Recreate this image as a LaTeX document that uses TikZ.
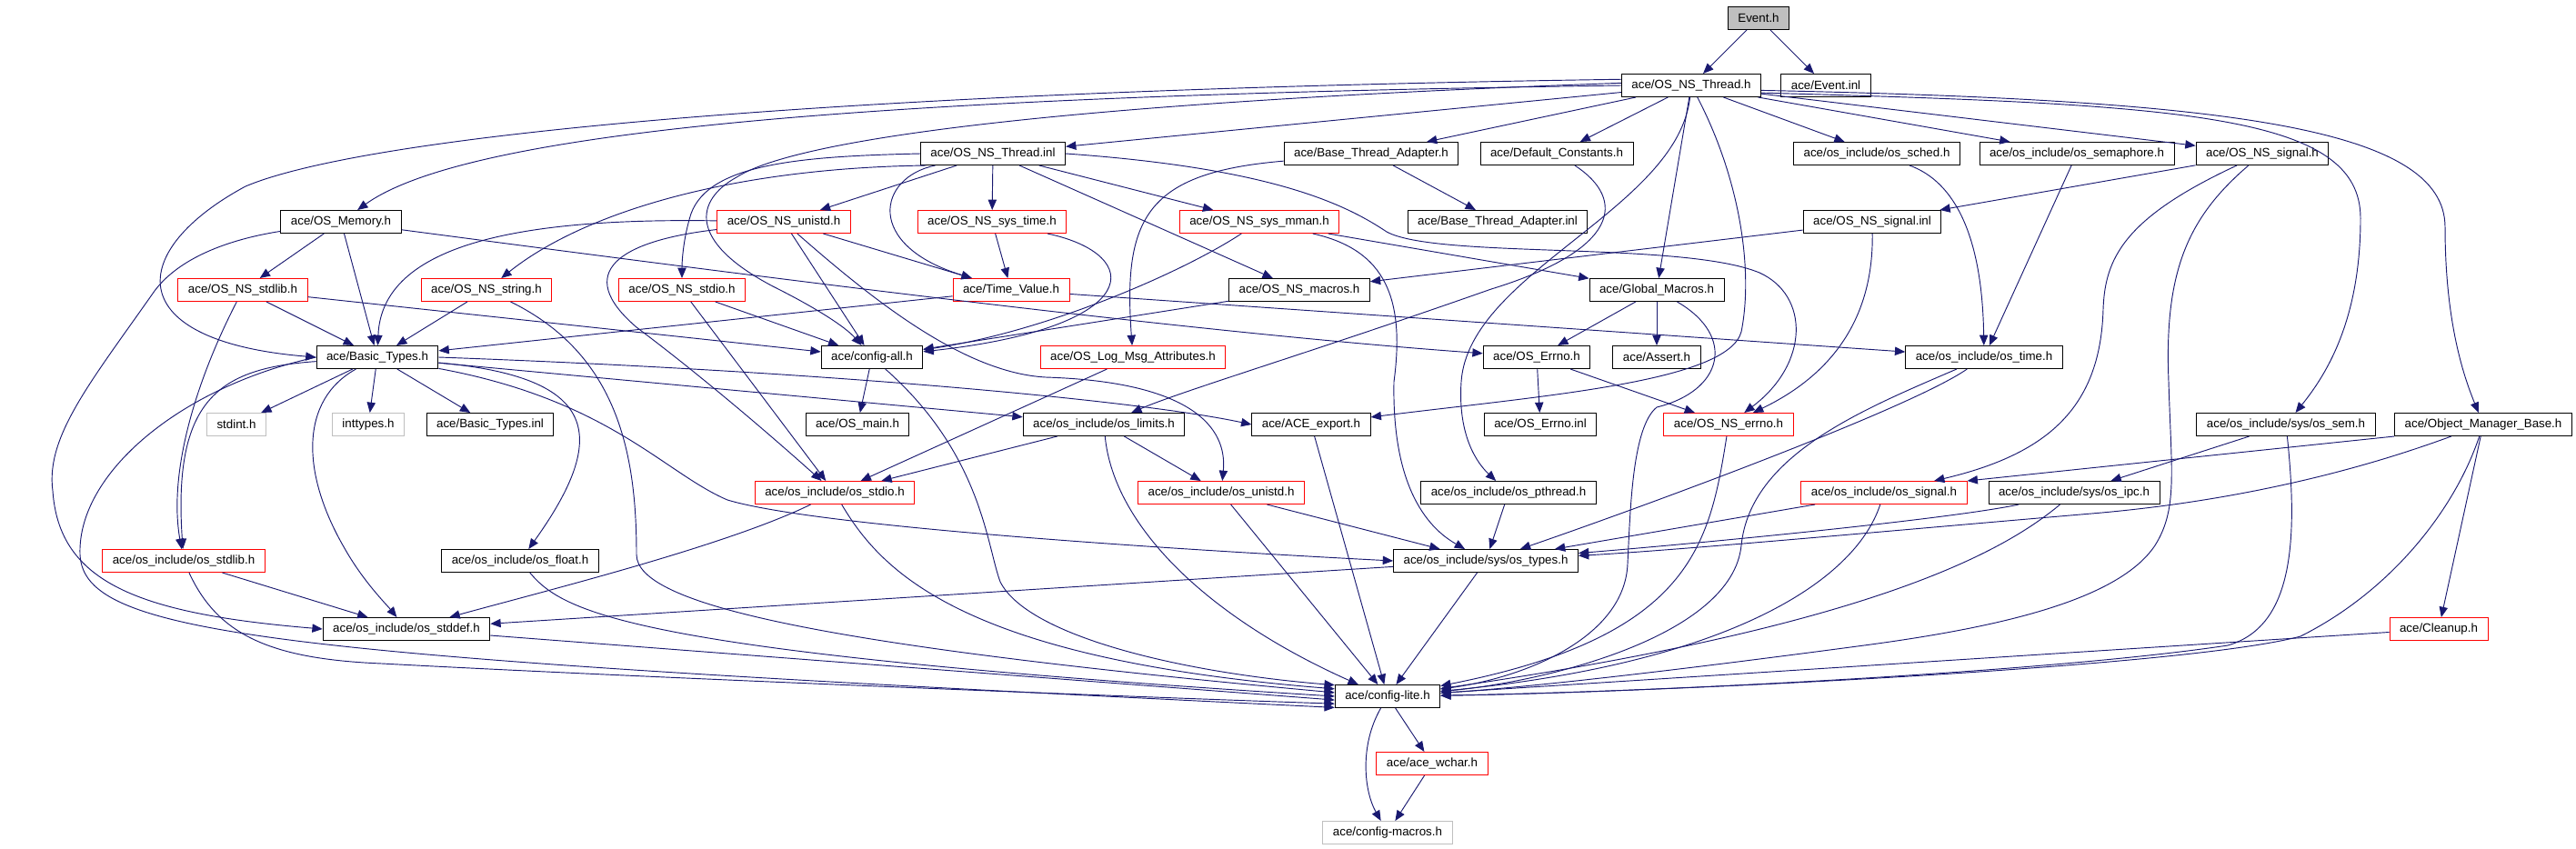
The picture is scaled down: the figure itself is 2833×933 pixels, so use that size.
\documentclass[tikz,border=0pt]{standalone}
\usepackage{fontspec}
\setmainfont{Liberation Sans}
\usetikzlibrary{arrows.meta}
\definecolor{edgeblue}{HTML}{191970}
\definecolor{boxgray}{HTML}{BFBFBF}
\tikzset{
	file/.style={draw=black, line width=0.75pt, inner xsep=8.25pt, inner ysep=0pt, minimum height=18.75pt, font=\fontsize{10}{12}\selectfont},
	redfile/.style={file, draw=red},
	sysfile/.style={file, draw=boxgray},
	rootfile/.style={file, fill=boxgray},
	inc/.style={draw=edgeblue, line width=0.7pt, -{Triangle[length=8.5pt,width=7pt]}}
}

\begin{document}
\begin{tikzpicture}[x=0.75pt, y=-0.75pt]
			%%%%% START %%%%%
			\useasboundingbox (0,0) rectangle (2833,933);
			
			\node[rootfile] (event) at (1934,20) {Event.h};
			\node[file] (thrh) at (1860,94) {ace/OS\_NS\_Thread.h};
			\node[file] (evinl) at (2008,94) {ace/Event.inl};
			
			\node[file] (thrinl) at (1092,169) {ace/OS\_NS\_Thread.inl};
			\node[file] (btah) at (1508,169) {ace/Base\_Thread\_Adapter.h};
			\node[file] (defc) at (1712,169) {ace/Default\_Constants.h};
			\node[file] (sched) at (2064,169) {ace/os\_include/os\_sched.h};
			\node[file] (sema) at (2284,169) {ace/os\_include/os\_semaphore.h};
			\node[file] (sigh) at (2488,169) {ace/OS\_NS\_signal.h};
			
			\node[file] (mem) at (375,244) {ace/OS\_Memory.h};
			\node[redfile] (unistd) at (862,244) {ace/OS\_NS\_unistd.h};
			\node[redfile] (systime) at (1091,244) {ace/OS\_NS\_sys\_time.h};
			\node[redfile] (mman) at (1385,244) {ace/OS\_NS\_sys\_mman.h};
			\node[file] (btainl) at (1647,244) {ace/Base\_Thread\_Adapter.inl};
			\node[file] (siginl) at (2059,244) {ace/OS\_NS\_signal.inl};
			
			\node[redfile] (stdlib) at (267,319) {ace/OS\_NS\_stdlib.h};
			\node[redfile] (string) at (535,319) {ace/OS\_NS\_string.h};
			\node[redfile] (stdio) at (750,319) {ace/OS\_NS\_stdio.h};
			\node[redfile] (tv) at (1112,319) {ace/Time\_Value.h};
			\node[file] (macros) at (1429,319) {ace/OS\_NS\_macros.h};
			\node[file] (gmac) at (1822,319) {ace/Global\_Macros.h};
			
			\node[file] (bt) at (415,393) {ace/Basic\_Types.h};
			\node[file] (call) at (959,393) {ace/config-all.h};
			\node[redfile] (logmsg) at (1246,393) {ace/OS\_Log\_Msg\_Attributes.h};
			\node[file] (errno) at (1690,393) {ace/OS\_Errno.h};
			\node[file] (assert) at (1822,393) {ace/Assert.h};
			\node[file] (ostime) at (2182,393) {ace/os\_include/os\_time.h};
			
			\node[sysfile] (stdint) at (260,467) {stdint.h};
			\node[sysfile] (inttypes) at (405,467) {inttypes.h};
			\node[file] (btinl) at (539,467) {ace/Basic\_Types.inl};
			\node[file] (osmain) at (943,467) {ace/OS\_main.h};
			\node[file] (limits) at (1214,467) {ace/os\_include/os\_limits.h};
			\node[file] (export) at (1442,467) {ace/ACE\_export.h};
			\node[file] (errinl) at (1694,467) {ace/OS\_Errno.inl};
			\node[redfile] (nserrno) at (1901,467) {ace/OS\_NS\_errno.h};
			\node[file] (sem) at (2514,467) {ace/os\_include/sys/os\_sem.h};
			\node[file] (omb) at (2731,467) {ace/Object\_Manager\_Base.h};
			
			\node[redfile] (ostdio) at (918,542) {ace/os\_include/os\_stdio.h};
			\node[redfile] (ounistd) at (1343,542) {ace/os\_include/os\_unistd.h};
			\node[file] (pthread) at (1659,542) {ace/os\_include/os\_pthread.h};
			\node[redfile] (osignal) at (2072,542) {ace/os\_include/os\_signal.h};
			\node[file] (ipc) at (2281,542) {ace/os\_include/sys/os\_ipc.h};
			
			\node[redfile] (ostdlib) at (202,617) {ace/os\_include/os\_stdlib.h};
			\node[file] (float) at (572,617) {ace/os\_include/os\_float.h};
			\node[file] (types) at (1634,617) {ace/os\_include/sys/os\_types.h};
			
			\node[file] (stddef) at (447,692) {ace/os\_include/os\_stddef.h};
			\node[redfile] (cleanup) at (2682,692) {ace/Cleanup.h};
			
			\node[file] (lite) at (1526,766) {ace/config-lite.h};
			\node[redfile] (wchar) at (1575,840) {ace/ace\_wchar.h};
			\node[sysfile] (cmacros) at (1526,916) {ace/config-macros.h};
			
			\draw[inc] (event) -- (thrh);
			\draw[inc] (event) -- (evinl);
			
			\draw[inc] (thrh) -- (thrinl);
			\draw[inc] (thrh) -- (btah);
			\draw[inc] (thrh) -- (defc);
			\draw[inc] (thrh) -- (sched);
			\draw[inc] (thrh) -- (sema);
			\draw[inc] (thrh) -- (sigh);
			\draw[inc] (thrh) -- (gmac);
			\draw[inc] (thrh.-6) .. controls (2400,115) and (2596,125) .. (2596,240) .. controls (2596,350) and (2560,410) .. (sem);
			\draw[inc] (thrh.-4) .. controls (2450,110) and (2689,140) .. (2689,250) .. controls (2689,360) and (2712,420) .. (omb);
			\draw[inc] (thrh.west) .. controls (1000,105) and (520,140) .. (mem);
			\draw[inc] (thrh.175) .. controls (900,100) and (400,150) .. (270,205) .. controls (140,275) and (130,375) .. (bt.west);
			\draw[inc] (thrh.178) .. controls (1200,112) and (880,150) .. (810,195) .. controls (765,220) and (755,265) .. (850,315) .. controls (900,340) and (930,360) .. (call);
			\draw[inc] (thrh) .. controls (1845,230) and (1615,300) .. (1607,420) .. controls (1603,480) and (1625,510) .. (pthread);
			\draw[inc] (thrh) .. controls (1915,200) and (1928,300) .. (1915,365) .. controls (1900,420) and (1700,435) .. (export);
			
			\draw[inc] (defc) .. controls (1790,220) and (1780,275) .. (1640,318) .. controls (1450,385) and (1300,430) .. (limits);
			\draw[inc] (btah) -- (btainl);
			\draw[inc] (btah) .. controls (1260,190) and (1235,240) .. (logmsg);
			
			\draw[inc] (thrinl) -- (unistd);
			\draw[inc] (thrinl) -- (systime);
			\draw[inc] (thrinl) -- (mman);
			\draw[inc] (thrinl) -- (macros);
			\draw[inc] (thrinl) .. controls (965,195) and (950,270) .. (tv);
			\draw[inc] (thrinl.190) .. controls (800,185) and (640,235) .. (string);
			\draw[inc] (thrinl.west) .. controls (880,172) and (780,180) .. (760,235) .. controls (752,260) and (750,285) .. (stdio);
			\draw[inc] (thrinl.east) .. controls (1400,185) and (1480,225) .. (1525,255) .. controls (1580,285) and (1850,265) .. (1935,300) .. controls (1990,325) and (1990,400) .. (nserrno);
			
			\draw[inc] (mem) -- (stdlib);
			\draw[inc] (mem) -- (bt);
			\draw[inc] (mem) .. controls (260,262) and (200,280) .. (170,320) .. controls (100,420) and (50,480) .. (58,540) .. controls (65,640) and (150,675) .. (stddef.west);
			\draw[inc] (mem) .. controls (800,300) and (1300,365) .. (errno);
			
			\draw[inc] (unistd) .. controls (600,240) and (420,260) .. (bt);
			\draw[inc] (unistd) -- (call);
			\draw[inc] (unistd) -- (tv);
			\draw[inc] (unistd) .. controls (960,330) and (1060,410) .. (1150,415) .. controls (1310,420) and (1350,470) .. (ounistd);
			\draw[inc] (unistd) .. controls (680,265) and (630,300) .. (700,360) .. controls (780,420) and (860,490) .. (ostdio);
			\draw[inc] (systime) -- (tv);
			\draw[inc] (systime) .. controls (1260,280) and (1260,360) .. (call);
			\draw[inc] (mman) .. controls (1300,300) and (1150,365) .. (call);
			\draw[inc] (mman) -- (gmac);
			\draw[inc] (mman) .. controls (1525,275) and (1545,330) .. (1533,420) .. controls (1531,520) and (1560,575) .. (types);
			\draw[inc] (sigh) -- (siginl);
			\draw[inc] (sigh) .. controls (2335,240) and (2315,285) .. (2313,340) .. controls (2310,450) and (2250,500) .. (osignal);
			\draw[inc] (sigh) .. controls (2405,240) and (2380,300) .. (2385,420) .. controls (2388,520) and (2395,560) .. (2370,600) .. controls (2330,660) and (2200,690) .. (2050,710) .. controls (1900,730) and (1700,755) .. (lite);
			\draw[inc] (siginl) -- (macros);
			\draw[inc] (siginl) .. controls (2060,320) and (2040,400) .. (nserrno);
			\draw[inc] (sched) .. controls (2150,200) and (2180,260) .. (ostime);
			\draw[inc] (sema) -- (ostime);
			
			\draw[inc] (stdlib) -- (bt);
			\draw[inc] (stdlib) -- (call);
			\draw[inc] (stdlib) .. controls (215,420) and (185,520) .. (ostdlib);
			\draw[inc] (string) -- (bt);
			\draw[inc] (string) .. controls (680,390) and (700,500) .. (700,610) .. controls (700,665) and (900,710) .. (lite.176);
			\draw[inc] (stdio) -- (call);
			\draw[inc] (stdio) -- (ostdio);
			\draw[inc] (tv) -- (bt);
			\draw[inc] (tv) -- (ostime);
			\draw[inc] (macros) -- (call);
			\draw[inc] (gmac) -- (errno);
			\draw[inc] (gmac) -- (assert);
			\draw[inc] (gmac) .. controls (1910,370) and (1895,430) .. (1822,448) .. controls (1795,470) and (1793,560) .. (1790,620) .. controls (1787,700) and (1680,745) .. (lite);
			
			\draw[inc] (bt) -- (stdint);
			\draw[inc] (bt) -- (inttypes);
			\draw[inc] (bt) -- (btinl);
			\draw[inc] (bt) -- (limits);
			\draw[inc] (bt.east) .. controls (900,408) and (1250,440) .. (export.west);
			\draw[inc] (bt) .. controls (240,405) and (190,440) .. (ostdlib);
			\draw[inc] (bt) .. controls (330,440) and (330,520) .. (380,605) .. controls (400,640) and (425,665) .. (stddef);
			\draw[inc] (bt) .. controls (660,415) and (670,480) .. (float);
			\draw[inc] (bt) .. controls (670,440) and (730,520) .. (800,550) .. controls (900,580) and (1300,605) .. (types.west);
			\draw[inc] (bt.west) .. controls (200,425) and (85,520) .. (88,610) .. controls (92,700) and (300,722) .. (lite.192);
			\draw[inc] (call) -- (osmain);
			\draw[inc] (call) .. controls (1080,500) and (1085,600) .. (1100,640) .. controls (1130,700) and (1300,740) .. (lite.168);
			\draw[inc] (logmsg) -- (ostdio);
			\draw[inc] (errno) -- (errinl);
			\draw[inc] (errno) -- (nserrno);
			\draw[inc] (ostime) .. controls (2100,450) and (1800,560) .. (types);
			\draw[inc] (ostime) .. controls (2050,450) and (1925,500) .. (1915,600) .. controls (1905,700) and (1700,750) .. (lite);
			
			\draw[inc] (limits) -- (ostdio);
			\draw[inc] (limits) -- (ounistd);
			\draw[inc] (limits) .. controls (1225,580) and (1330,680) .. (lite.158);
			\draw[inc] (export) -- (lite);
			\draw[inc] (nserrno) .. controls (1880,600) and (1860,700) .. (lite);
			\draw[inc] (sem) -- (ipc);
			\draw[inc] (sem) .. controls (2528,600) and (2520,690) .. (2450,710) .. controls (2250,740) and (1800,762) .. (lite);
			\draw[inc] (omb.south west) -- (osignal.north east);
			\draw[inc] (omb) .. controls (2560,530) and (2420,555) .. (2300,565) .. controls (2100,582) and (1850,605) .. (types);
			\draw[inc] (omb) -- (cleanup);
			\draw[inc] (omb) .. controls (2700,560) and (2630,650) .. (2530,700) .. controls (2400,735) and (1800,762) .. (lite);
			
			\draw[inc] (ostdio) .. controls (800,600) and (600,650) .. (stddef);
			\draw[inc] (ostdio) .. controls (970,630) and (1060,725) .. (lite.172);
			\draw[inc] (ounistd) -- (types);
			\draw[inc] (ounistd) -- (lite);
			\draw[inc] (pthread) -- (types);
			\draw[inc] (osignal) -- (types);
			\draw[inc] (osignal) .. controls (2040,640) and (1900,730) .. (lite);
			\draw[inc] (ipc) .. controls (2150,570) and (1900,595) .. (types);
			\draw[inc] (ipc) .. controls (2200,610) and (2050,690) .. (lite);
			
			\draw[inc] (ostdlib) -- (stddef);
			\draw[inc] (ostdlib) .. controls (240,700) and (300,725) .. (420,730) .. controls (700,745) and (1200,765) .. (lite.188);
			\draw[inc] (float) .. controls (620,675) and (700,718) .. (lite.180);
			\draw[inc] (types) -- (stddef);
			\draw[inc] (types) -- (lite);
			\draw[inc] (stddef) -- (lite.184);
			\draw[inc] (cleanup) -- (lite);
			
			\draw[inc] (lite) -- (wchar);
			\draw[inc] (lite) .. controls (1495,820) and (1500,870) .. (cmacros);
			\draw[inc] (wchar) -- (cmacros);
			%%%%% END %%%%%
		\end{tikzpicture}
\end{document}
